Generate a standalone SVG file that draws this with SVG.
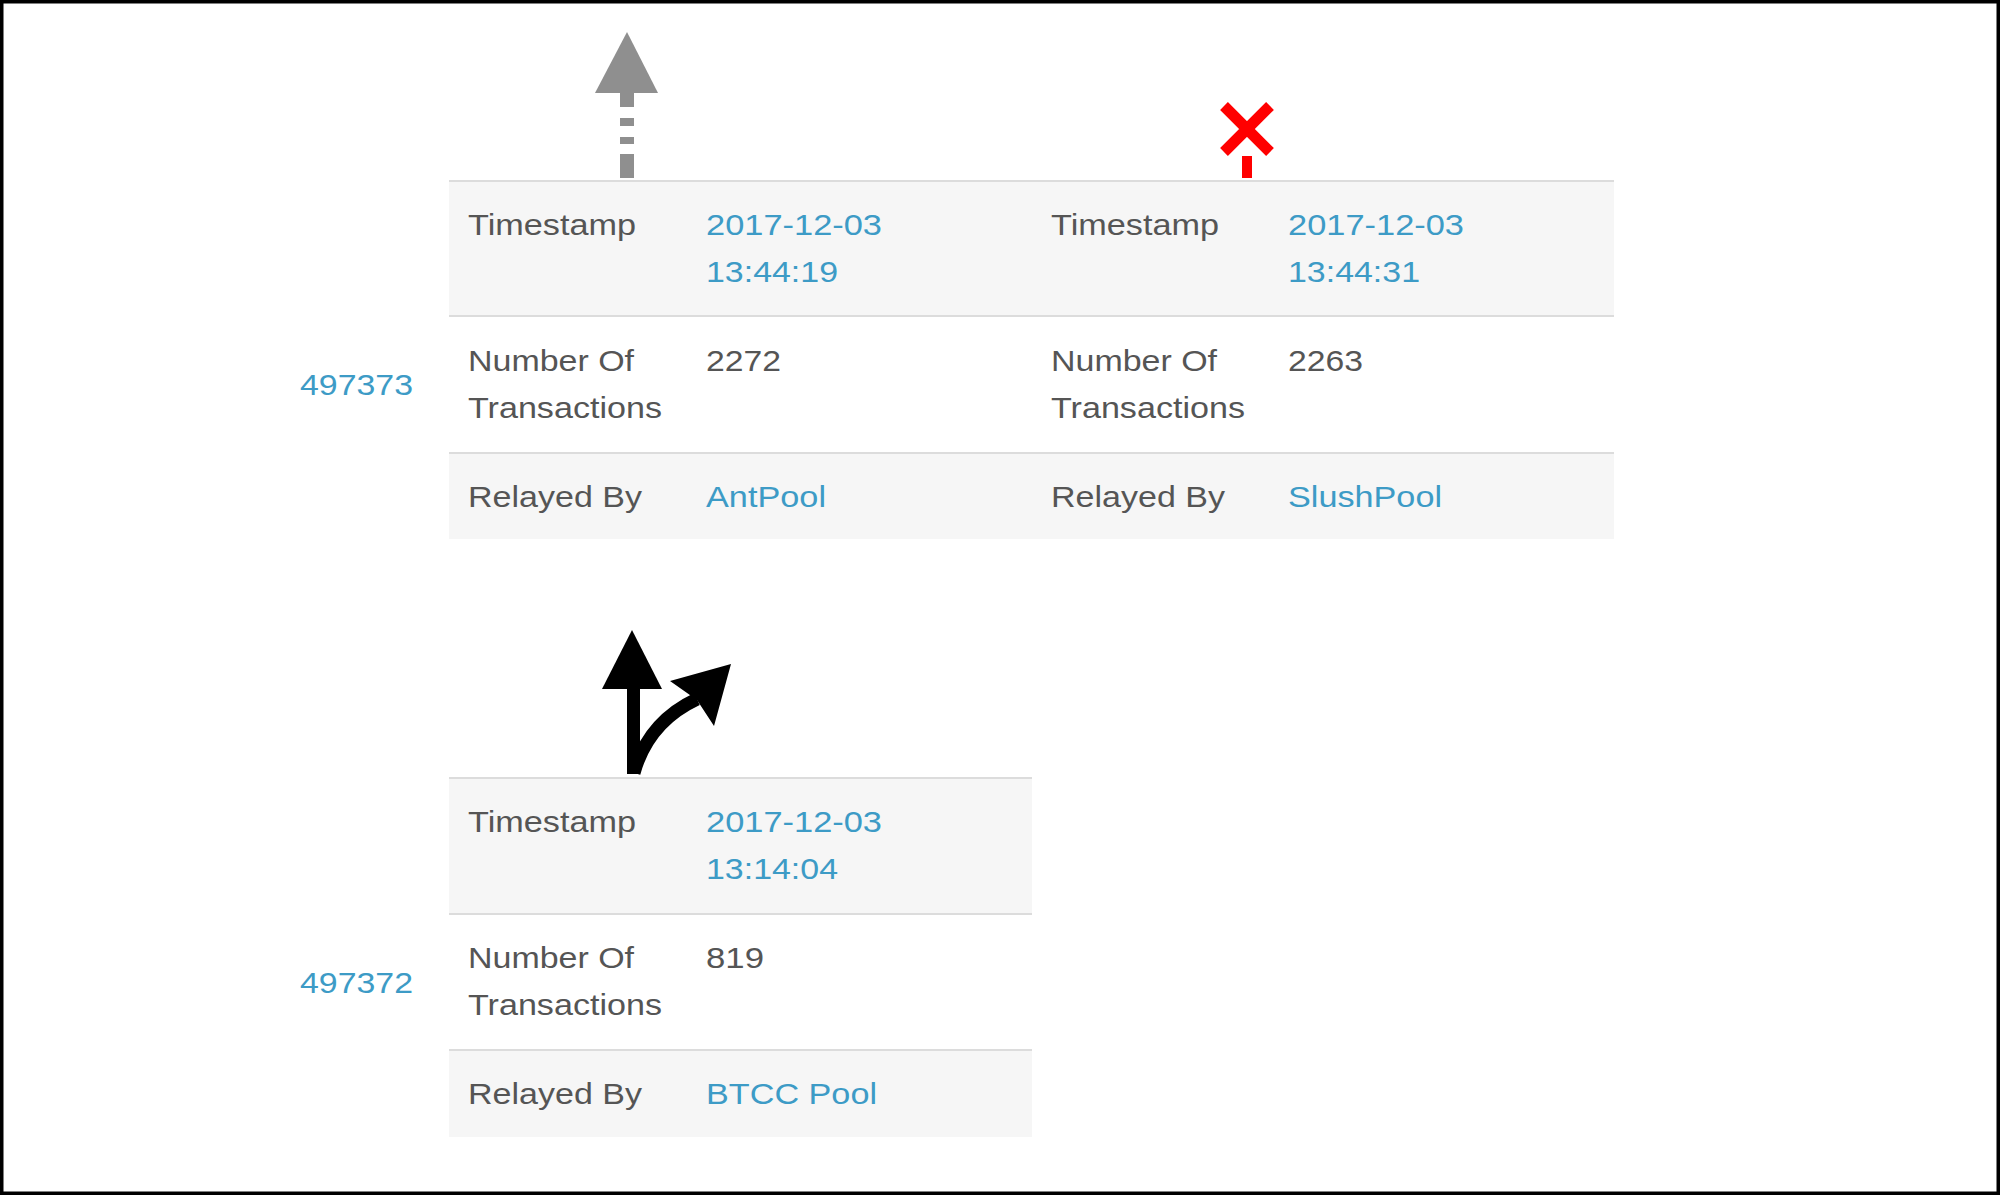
<svg xmlns="http://www.w3.org/2000/svg" width="2000" height="1195" viewBox="0 0 2000 1195">
<style>
text { font-family: "Liberation Sans", Arial, sans-serif; font-size: 30px; }
.lbl { fill: #555555; }
.val { fill: #333333; opacity: 0.85; }
.lnk { fill: #3d9bc6; }
.shade { fill: #f6f6f6; }
.rule { stroke: #dcdcdc; stroke-width: 2; }
</style>
<rect x="0" y="0" width="2000" height="1195" fill="#ffffff"/>
<rect x="1.75" y="1.75" width="1996.5" height="1191.5" fill="none" stroke="#000000" stroke-width="3.5"/>

<g id="block-497373">
  <text class="lnk" x="300" y="395" textLength="113" lengthAdjust="spacingAndGlyphs">497373</text>
</g>

<g id="table-antpool">
  <rect class="shade" x="449" y="180" width="583" height="136"/>
  <rect class="shade" x="449" y="453" width="583" height="86"/>
  <line class="rule" x1="449" y1="181" x2="1032" y2="181"/>
  <line class="rule" x1="449" y1="316" x2="1032" y2="316"/>
  <line class="rule" x1="449" y1="453" x2="1032" y2="453"/>
  <text class="lbl" x="468" y="235" textLength="168" lengthAdjust="spacingAndGlyphs">Timestamp</text>
  <text class="lnk" x="706" y="235" textLength="176" lengthAdjust="spacingAndGlyphs">2017-12-03</text>
  <text class="lnk" x="706" y="282" textLength="132" lengthAdjust="spacingAndGlyphs">13:44:19</text>
  <text class="lbl" x="468" y="371" textLength="166" lengthAdjust="spacingAndGlyphs">Number Of</text>
  <text class="lbl" x="468" y="418" textLength="194" lengthAdjust="spacingAndGlyphs">Transactions</text>
  <text class="lbl" x="706" y="371" textLength="75" lengthAdjust="spacingAndGlyphs">2272</text>
  <text class="lbl" x="468" y="507" textLength="174" lengthAdjust="spacingAndGlyphs">Relayed By</text>
  <text class="lnk" x="706" y="507" textLength="120" lengthAdjust="spacingAndGlyphs">AntPool</text>
</g>

<g id="table-slushpool">
  <rect class="shade" x="1032" y="180" width="582" height="136"/>
  <rect class="shade" x="1032" y="453" width="582" height="86"/>
  <line class="rule" x1="1032" y1="181" x2="1614" y2="181"/>
  <line class="rule" x1="1032" y1="316" x2="1614" y2="316"/>
  <line class="rule" x1="1032" y1="453" x2="1614" y2="453"/>
  <text class="lbl" x="1051" y="235" textLength="168" lengthAdjust="spacingAndGlyphs">Timestamp</text>
  <text class="lnk" x="1288" y="235" textLength="176" lengthAdjust="spacingAndGlyphs">2017-12-03</text>
  <text class="lnk" x="1288" y="282" textLength="132" lengthAdjust="spacingAndGlyphs">13:44:31</text>
  <text class="lbl" x="1051" y="371" textLength="166" lengthAdjust="spacingAndGlyphs">Number Of</text>
  <text class="lbl" x="1051" y="418" textLength="194" lengthAdjust="spacingAndGlyphs">Transactions</text>
  <text class="lbl" x="1288" y="371" textLength="75" lengthAdjust="spacingAndGlyphs">2263</text>
  <text class="lbl" x="1051" y="507" textLength="174" lengthAdjust="spacingAndGlyphs">Relayed By</text>
  <text class="lnk" x="1288" y="507" textLength="154" lengthAdjust="spacingAndGlyphs">SlushPool</text>
</g>

<g id="block-497372">
  <text class="lnk" x="300" y="993" textLength="113" lengthAdjust="spacingAndGlyphs">497372</text>
</g>

<g id="table-btcc">
  <rect class="shade" x="449" y="777" width="583" height="137"/>
  <rect class="shade" x="449" y="1050" width="583" height="87"/>
  <line class="rule" x1="449" y1="778" x2="1032" y2="778"/>
  <line class="rule" x1="449" y1="914" x2="1032" y2="914"/>
  <line class="rule" x1="449" y1="1050" x2="1032" y2="1050"/>
  <text class="lbl" x="468" y="832" textLength="168" lengthAdjust="spacingAndGlyphs">Timestamp</text>
  <text class="lnk" x="706" y="832" textLength="176" lengthAdjust="spacingAndGlyphs">2017-12-03</text>
  <text class="lnk" x="706" y="879" textLength="132" lengthAdjust="spacingAndGlyphs">13:14:04</text>
  <text class="lbl" x="468" y="968" textLength="166" lengthAdjust="spacingAndGlyphs">Number Of</text>
  <text class="lbl" x="468" y="1015" textLength="194" lengthAdjust="spacingAndGlyphs">Transactions</text>
  <text class="lbl" x="706" y="968" textLength="58" lengthAdjust="spacingAndGlyphs">819</text>
  <text class="lbl" x="468" y="1104" textLength="174" lengthAdjust="spacingAndGlyphs">Relayed By</text>
  <text class="lnk" x="706" y="1104" textLength="171" lengthAdjust="spacingAndGlyphs">BTCC Pool</text>
</g>

<g id="connectors">
  <g id="arrow-gray-dashed" fill="#8f8f8f">
    <polygon points="627,32 595,93 658,93"/>
    <rect x="620" y="92" width="14" height="15"/>
    <rect x="620" y="118" width="14" height="8"/>
    <rect x="620" y="137" width="14" height="7"/>
    <rect x="620" y="154" width="14" height="24"/>
  </g>
  <g id="cross-red">
    <path d="M1224,106 L1270,152 M1270,106 L1224,152" stroke="#ff0000" stroke-width="11" fill="none"/>
    <rect x="1242" y="156" width="10" height="22" fill="#ff0000"/>
  </g>
  <g id="arrow-fork-black" fill="#000000">
    <polygon points="632,630 602,689 662,689"/>
    <rect x="627" y="686" width="13" height="88"/>
    <path d="M634,773 Q648,722 697,699" stroke="#000000" stroke-width="13" fill="none"/>
    <polygon points="670,681 731,664 714,726 697,700"/>
  </g>
</g>
</svg>
